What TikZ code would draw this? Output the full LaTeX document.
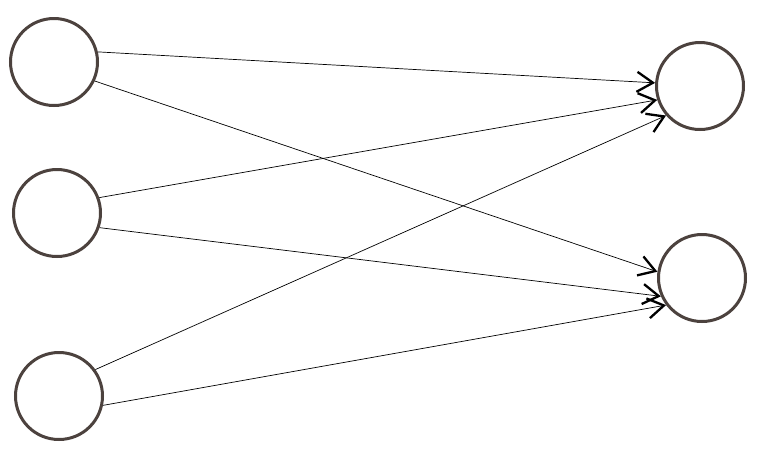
\documentclass[tikz,border=0pt]{standalone}
\usepackage{tikz}
\usetikzlibrary{shapes,arrows,arrows.meta}
\definecolor{ringcol}{RGB}{76,66,62}
\tikzstyle{unit} = [draw=ringcol, fill=white, circle, line width=3pt, minimum size=87pt, inner sep=0pt]
\tikzset{
  line/.style ={draw, line width=0.7pt, -{Straight Barb[length=16pt,width=20pt,line width=2.3pt]}, shorten >=0pt}
}
\begin{document}
\begin{tikzpicture}[x=1pt,y=-1pt]
 \useasboundingbox (0,0) rectangle (761,459);
 \node[unit] (in1) at (54,62) {};
 \node[unit] (in2) at (57,213) {};
 \node[unit] (in3) at (59,396) {};
 \node[unit] (out1) at (700,86) {};
 \node[unit] (out2) at (702,278) {};
 \begin{scope}[every path/.style=line]
   \path (in1.13) -- (out1.176);
   \path (in1.-25) -- (out2.172);
   \path (in2.20) -- (out1.198);
   \path (in2.-19) -- (out2.204);
   \path (in3.36) -- (out1.221);
   \path (in3.-12) -- (out2.217);
 \end{scope}
\end{tikzpicture}
\end{document}
